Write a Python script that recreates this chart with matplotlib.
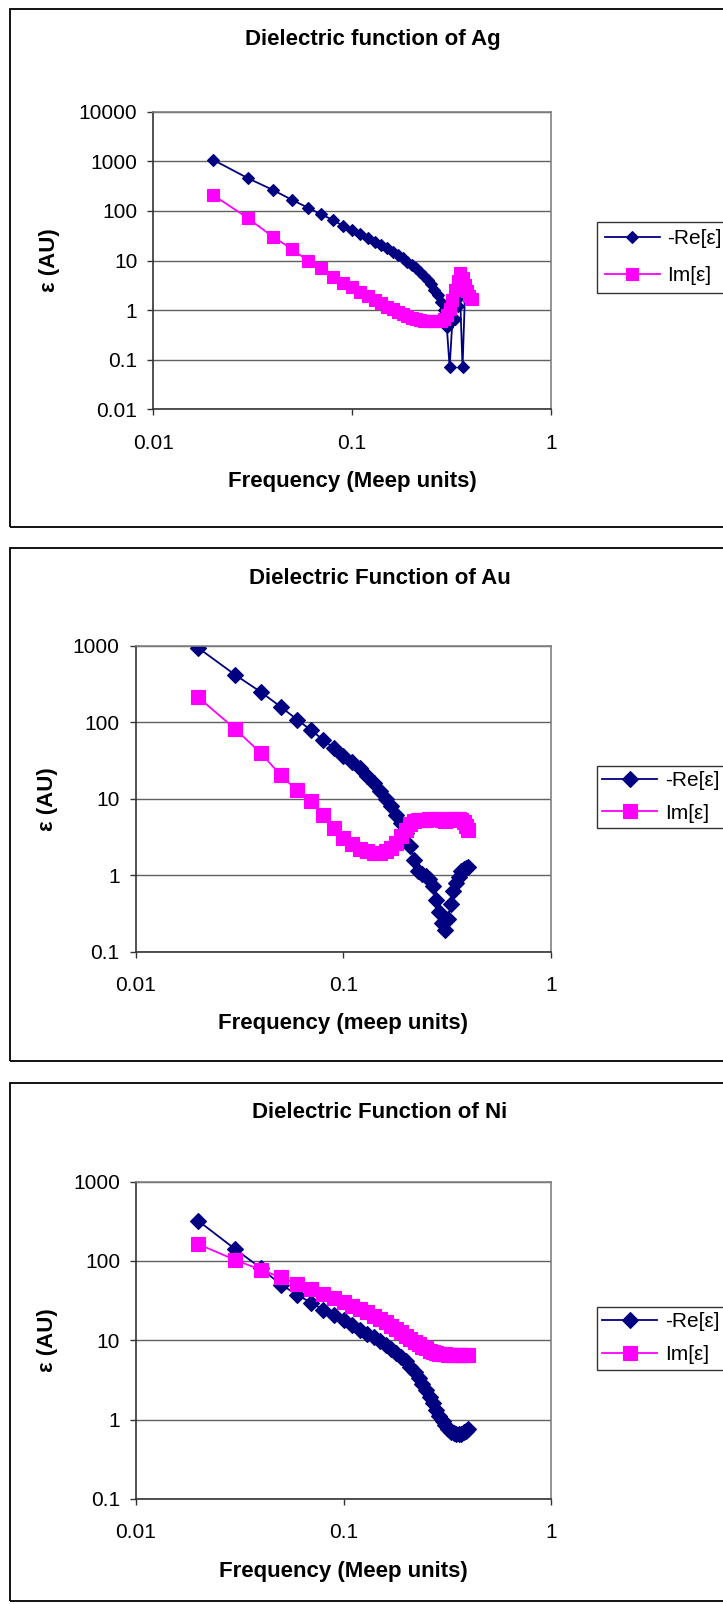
import numpy as np
import matplotlib.pyplot as plt
from matplotlib.patches import Rectangle

plt.rcParams['font.family'] = ['Liberation Sans', 'DejaVu Sans']

# frequency points (Meep units), same for all three metals
freq = [0.02, 0.03, 0.04, 0.05, 0.06, 0.07, 0.08, 0.09, 0.10, 0.11,
        0.12, 0.13, 0.14, 0.15, 0.16, 0.17, 0.18, 0.19, 0.20, 0.21,
        0.22, 0.23, 0.24, 0.25, 0.26, 0.27, 0.28, 0.29, 0.30, 0.31,
        0.32, 0.33, 0.34, 0.35, 0.36, 0.37, 0.38, 0.39, 0.40]

# Ag
ag_re = [1070, 454, 264, 166, 116, 85, 66, 50, 41, 35,
         28, 24, 20.5, 17.6, 15, 12.9, 11, 9.5, 8.1, 7.0,
         5.9, 4.9, 4.0, 3.3, 2.6, 2.0, 1.48, 1.0, 0.46, 0.07,
         0.6, 0.65, 1.2, 1.9, 0.07, 1.9, 1.9, 1.85, 1.85]
ag_im = [209, 71, 30, 17, 9.8, 7.0, 4.7, 3.6, 2.9, 2.35,
         1.9, 1.6, 1.37, 1.17, 1.04, 0.92, 0.82, 0.76, 0.70, 0.66,
         0.63, 0.61, 0.60, 0.59, 0.59, 0.59, 0.60, 0.66, 0.78, 1.05,
         1.6, 2.5, 3.9, 5.7, 4.5, 3.2, 2.4, 1.9, 1.7]

# Au
au_re = [937, 420, 249, 159, 108, 78.6, 59, 46, 36.7, 30.3,
         25.3, 20, 16.1, 12.5, 9.8, 8.0, 6.2, 4.8, 3.6, 2.4,
         1.6, 1.15, 1.05, 0.98, 0.9, 0.72, 0.48, 0.33, 0.24, 0.19,
         0.27, 0.42, 0.62, 0.78, 0.95, 1.12, 1.2, 1.25, 1.28]
au_im = [212, 82.6, 39.7, 20.3, 12.8, 9.3, 6.2, 4.2, 3.1, 2.57,
         2.23, 2.06, 1.96, 1.96, 2.06, 2.28, 2.65, 3.24, 3.95, 4.6,
         5.08, 5.3, 5.3, 5.3, 5.35, 5.4, 5.4, 5.35, 5.2, 5.1,
         5.2, 5.4, 5.5, 5.5, 5.4, 5.2, 4.9, 4.4, 3.9]

# Ni
ni_re = [318, 141, 81, 50, 37.4, 29.4, 24.3, 20.6, 17.8, 15.6,
         13.6, 12.1, 10.9, 9.7, 8.7, 7.8, 6.9, 6.2, 5.4, 4.6,
         3.97, 3.36, 2.83, 2.36, 1.94, 1.6, 1.32, 1.11, 0.96, 0.85,
         0.76, 0.70, 0.67, 0.65, 0.65, 0.65, 0.69, 0.72, 0.77]
ni_im = [162, 103, 77, 61.8, 51, 44, 38.5, 34, 30.3, 27.2,
         24.7, 22.5, 20.4, 18.5, 16.8, 15.3, 13.9, 12.6, 11.4, 10.5,
         9.6, 8.9, 8.3, 7.9, 7.4, 7.1, 6.9, 6.8, 6.7, 6.7,
         6.6, 6.6, 6.6, 6.6, 6.6, 6.6, 6.6, 6.6, 6.6]

xticks = [0.01, 0.1, 1]
xtick_labels = ['0.01', '0.1', '1']
ag_yticks = [0.01, 0.1, 1, 10, 100, 1000, 10000]
ag_ytick_labels = ['0.01', '0.1', '1', '10', '100', '1000', '10000']
yticks = [0.1, 1, 10, 100, 1000]
ytick_labels = ['0.1', '1', '10', '100', '1000']

titles = ['Dielectric function of Ag', 'Dielectric Function of Au',
          'Dielectric Function of Ni']
xtitles = ['Frequency (Meep units)', 'Frequency (meep units)',
           'Frequency (Meep units)']
ytitle = 'ε (AU)'
series_names = ['-Re[ε]', 'Im[ε]']

W, H = 723, 1604
NAVY = '#000080'
MAGENTA = '#FF00FF'

fig = plt.figure(figsize=(W / 100, H / 100), dpi=100)


def fx(px):
    return px / W


def fy(py):
    return 1 - py / H


def panel(box, plot, title_x, ylab_x, re, im, yt, ytl, title, xtitle,
          ms_d, ms_s, leg_top, leg_space, leg_pad):
    bx0, by0, by1 = box
    fig.add_artist(Rectangle((fx(bx0), fy(by1)), fx(W + 20 - bx0),
                             (by1 - by0) / H, transform=fig.transFigure,
                             fill=False, ec='black', lw=1.3))
    left, top, right, bottom = plot
    ax = fig.add_axes([fx(left), fy(bottom), (right - left) / W,
                       (bottom - top) / H])
    ax.plot(freq, re, color=NAVY, lw=1.3, marker='D', ms=ms_d,
            mec=NAVY, mew=0.8, label=series_names[0])
    ax.plot(freq, im, color=MAGENTA, lw=1.3, marker='s', ms=ms_s,
            mec=MAGENTA, mew=0.8, label=series_names[1])
    ax.set_xscale('log')
    ax.set_yscale('log')
    ax.set_xlim(0.01, 1)
    ax.set_ylim(yt[0], yt[-1])
    ax.set_xticks(xticks)
    ax.set_xticklabels(xtick_labels)
    ax.set_yticks(yt)
    ax.set_yticklabels(ytl)
    ax.minorticks_off()
    ax.tick_params(axis='both', direction='out', length=4, width=1,
                   labelsize=15, color='#333333')
    ax.tick_params(axis='y', pad=7.5)
    ax.tick_params(axis='x', pad=13.5)
    ax.yaxis.grid(True, color='#606060', lw=1.0)
    ax.set_axisbelow(True)
    for s in ['top', 'right']:
        ax.spines[s].set_color('#808080')
        ax.spines[s].set_linewidth(1.2)
    for s in ['left', 'bottom']:
        ax.spines[s].set_color('#333333')
        ax.spines[s].set_linewidth(1.2)

    fig.text(fx(title_x), fy(by0 + 30), title, ha='center', va='center',
             fontsize=16, fontweight='bold')
    fig.text(fx(ylab_x), fy((top + bottom) / 2), ytitle, ha='center',
             va='center', rotation=90, fontsize=16, fontweight='bold')
    fig.text(fx((left + right) / 2), fy(bottom + 72), xtitle,
             ha='center', va='center', fontsize=16, fontweight='bold')

    leg = ax.legend(loc='upper left', bbox_to_anchor=(fx(597), fy(leg_top)),
                    bbox_transform=fig.transFigure, borderaxespad=0,
                    fontsize=15, frameon=True, fancybox=False,
                    edgecolor='black', handlelength=2.64,
                    handletextpad=0.35, borderpad=leg_pad,
                    labelspacing=leg_space)
    leg.get_frame().set_linewidth(1.0)
    return ax


panel((9.5, 9.5, 527), (153.3, 111.7, 550.7, 409.3), 373, 50,
      ag_re, ag_im, ag_yticks, ag_ytick_labels, titles[0], xtitles[0],
      6.3, 8.0, 222, 0.86, 0.36)
panel((9.5, 548.3, 1061), (135.7, 645.7, 550.7, 951.7), 380, 47,
      au_re, au_im, yticks, ytick_labels, titles[1], xtitles[1],
      7.8, 10.3, 765.7, 0.65, 0.26)
panel((9.5, 1082.7, 1601), (136, 1181.5, 551, 1499), 380, 47,
      ni_re, ni_im, yticks, ytick_labels, titles[2], xtitles[2],
      7.8, 10.3, 1306.7, 0.69, 0.26)

fig.savefig('out.png', dpi=100, facecolor='white')
